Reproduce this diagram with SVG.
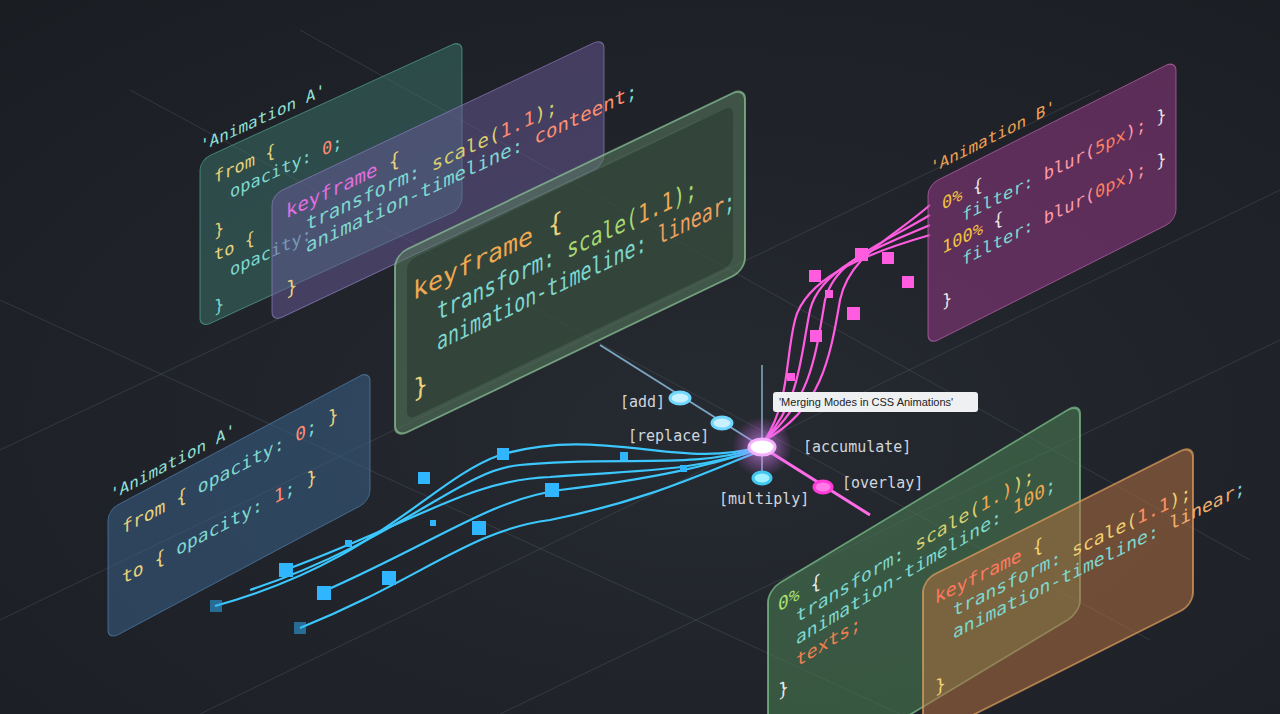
<svg xmlns="http://www.w3.org/2000/svg" width="1280" height="714" viewBox="0 0 1280 714">
<defs>
<radialGradient id="bg" cx="0.55" cy="0.6" r="0.8"><stop offset="0" stop-color="#262a31"/><stop offset="1" stop-color="#1a1d22"/></radialGradient>
<radialGradient id="glow"><stop offset="0" stop-color="#ffffff" stop-opacity="0.9"/><stop offset="0.3" stop-color="#e090ff" stop-opacity="0.5"/><stop offset="1" stop-color="#e060ff" stop-opacity="0"/></radialGradient>
</defs>
<style>
.code{font-family:"DejaVu Sans Mono","Liberation Mono",monospace}
.lbl{font-family:"DejaVu Sans Mono","Liberation Mono",monospace;font-size:15px;fill:#cfd6de}
.grid{stroke:#4a5058;stroke-width:1;opacity:0.5}
.bw{fill:none;stroke:#3cc8ff;stroke-width:2.2}
.pw{fill:none;stroke:#ff5ce0;stroke-width:2.2}
.bs{fill:#2fb6ff}
.ps{fill:#ff5ce0}
</style>
<rect width="1280" height="714" fill="url(#bg)"/>
<g id="grid">
<line class="grid" x1="130" y1="90" x2="1150" y2="640"/>
<line class="grid" x1="300" y1="30" x2="1250" y2="560"/>
<line class="grid" x1="0" y1="620" x2="1100" y2="90"/>
<line class="grid" x1="200" y1="714" x2="1280" y2="190"/>
<line class="grid" x1="0" y1="450" x2="700" y2="120"/>
<line class="grid" x1="500" y1="714" x2="1280" y2="340"/>
<line class="grid" x1="0" y1="300" x2="900" y2="714"/>
</g>
<g id="connectors">
<line x1="600" y1="345" x2="762" y2="447" stroke="#9fd8ff" stroke-width="2" opacity="0.7"/>
<line x1="762" y1="447" x2="870" y2="515" stroke="#ff6ce8" stroke-width="3"/>
<line x1="762" y1="365" x2="762" y2="478" stroke="#b0e8ff" stroke-width="1.5" opacity="0.7"/>
<path class="bw" d="M215 606 C380 560 430 480 500 455 C600 425 680 470 758 447"/>
<path class="bw" d="M250 590 C400 540 460 470 520 465 C620 455 690 470 758 448"/>
<path class="bw" d="M285 570 C420 520 470 480 550 477 C650 470 700 470 758 449"/>
<path class="bw" d="M320 593 C440 540 490 500 560 490 C660 478 710 465 758 450"/>
<path class="bw" d="M300 628 C420 580 470 530 550 520 C650 500 710 470 758 452"/>
<path class="pw" d="M765 440 C790 400 785 360 795 320 C805 280 860 255 930 235"/>
<path class="pw" d="M765 440 C800 400 800 360 810 310 C820 270 870 250 930 225"/>
<path class="pw" d="M765 440 C810 400 815 360 825 300 C835 260 880 245 930 215"/>
<path class="pw" d="M765 440 C820 410 830 360 840 300 C850 255 890 240 930 205"/>
<g class="bs">
<rect x="497" y="448" width="12" height="12"/><rect x="418" y="472" width="12" height="12"/><rect x="545" y="483" width="14" height="14"/>
<rect x="472" y="521" width="14" height="14"/><rect x="382" y="571" width="14" height="14"/><rect x="317" y="586" width="14" height="14"/>
<rect x="279" y="563" width="14" height="14"/><rect x="620" y="452" width="8" height="8"/><rect x="680" y="465" width="7" height="7"/>
<rect x="345" y="540" width="7" height="7"/><rect x="430" y="520" width="6" height="6"/><rect x="210" y="600" width="12" height="12" opacity="0.5"/>
<rect x="294" y="622" width="12" height="12" opacity="0.5"/>
</g>
<g class="ps">
<rect x="809" y="270" width="12" height="12"/><rect x="855" y="248" width="13" height="13"/><rect x="882" y="252" width="12" height="12"/>
<rect x="847" y="307" width="13" height="13"/><rect x="810" y="330" width="12" height="12"/><rect x="902" y="276" width="12" height="12"/>
<rect x="787" y="373" width="8" height="8"/><rect x="825" y="290" width="8" height="8"/>
</g>
<circle cx="762" cy="447" r="30" fill="url(#glow)"/>
<ellipse cx="762" cy="447" rx="13" ry="8" fill="#ffffff" stroke="#f4b0ff" stroke-width="3"/>
<ellipse cx="680" cy="398" rx="10" ry="6" fill="#c8f0ff" stroke="#6fd6ff" stroke-width="3"/>
<ellipse cx="722" cy="423" rx="10" ry="6" fill="#c8f0ff" stroke="#6fd6ff" stroke-width="3"/>
<ellipse cx="762" cy="478" rx="9" ry="6" fill="#a0f0ff" stroke="#40c8f0" stroke-width="3"/>
<ellipse cx="823" cy="487" rx="9" ry="6" fill="#ff7ae8" stroke="#ff3cd8" stroke-width="3"/>
</g>
<g id="labels">
<text class="lbl" x="620" y="407">[add]</text>
<text class="lbl" x="628" y="441">[replace]</text>
<text class="lbl" x="803" y="452">[accumulate]</text>
<text class="lbl" x="842" y="488">[overlay]</text>
<text class="lbl" x="719" y="504">[multiply]</text>
<g id="tooltip"><rect x="773" y="392" width="205" height="20" rx="3" fill="#eef0f2"/><text x="779" y="406" font-family="'Liberation Sans',Arial,sans-serif" font-size="11" fill="#222">'Merging Modes in CSS Animations'</text></g>
</g>
<g id="panel-teal" transform="translate(200,160) skewY(-24.6)" class="code" font-size="17">
<rect x="0" y="0" width="262" height="168" rx="10" fill="#3d7f74" fill-opacity="0.45" stroke="#5fb8a8" stroke-opacity="0.6"/>
<text x="0" y="-8" fill="#8ee0d8" font-size="16">'Animation A'</text>
<text x="14" y="30" fill="#e8d27a">from {</text>
<text x="30" y="52" fill="#7ed8d0">opacity: <tspan fill="#ff8a70">0</tspan>;</text>
<text x="14" y="84" fill="#e8d27a">}</text>
<text x="14" y="108" fill="#e8d27a">to {</text>
<text x="30" y="130" fill="#7ed8d0">opacity:</text>
<text x="14" y="160" fill="#7ed8d0">}</text>
</g>
<g id="panel-purple" transform="translate(272,195) skewY(-25.3)" class="code" font-size="19">
<rect x="0" y="0" width="332" height="127" rx="10" fill="#6a5a9a" fill-opacity="0.5" stroke="#9a88d0" stroke-opacity="0.6"/>
<text x="14" y="30" fill="#e070e0">keyframe <tspan fill="#e8d27a">{</tspan></text>
<text x="34" y="52" fill="#7ed8d0">transform: <tspan fill="#d8d070">scale(</tspan><tspan fill="#ff8a70">1.1</tspan><tspan fill="#d8d070">);</tspan></text>
<text x="34" y="74" fill="#7ed8d0">animation-timeline: <tspan fill="#ff9070">conteent</tspan>;</text>
<text x="14" y="108" fill="#e8d27a">}</text>
</g>
<g id="panel-green" transform="translate(395,255) skewY(-25.6)" class="code" font-size="25">
<rect x="0" y="0" width="350" height="183" rx="12" fill="#5a7e5e" fill-opacity="0.55" stroke="#8ec89a" stroke-opacity="0.7" stroke-width="2"/>
<rect x="12" y="12" width="326" height="159" rx="8" fill="#2c3a34" fill-opacity="0.6"/>
<text x="18" y="54" fill="#f0a850" textLength="150" lengthAdjust="spacingAndGlyphs">keyframe <tspan fill="#e8d27a">{</tspan></text>
<text x="42" y="86" fill="#7ed8d0" textLength="260" lengthAdjust="spacingAndGlyphs">transform: <tspan fill="#a8d870">scale(</tspan><tspan fill="#f0a850">1.1</tspan><tspan fill="#a8d870">);</tspan></text>
<text x="42" y="116" fill="#7ed8d0" textLength="298" lengthAdjust="spacingAndGlyphs">animation-timeline: <tspan fill="#f0a060">linear</tspan>;</text>
<text x="18" y="152" fill="#e8d27a">}</text>
</g>
<g id="panel-blue" transform="translate(108,510) skewY(-28)" class="code" font-size="18">
<rect x="0" y="0" width="262" height="130" rx="10" fill="#3a6088" fill-opacity="0.55" stroke="#5c90c0" stroke-opacity="0.6"/>
<text x="2" y="-8" fill="#8ee0d8" font-size="16">'Animation A'</text>
<text x="14" y="32" fill="#e8d27a">from <tspan>{</tspan> <tspan fill="#7ed8d0">opacity:</tspan> <tspan fill="#ff8a70">0</tspan><tspan fill="#7ed8d0">;</tspan> }</text>
<text x="14" y="82" fill="#e8d27a">to { <tspan fill="#7ed8d0">opacity:</tspan> <tspan fill="#ff8a70">1</tspan><tspan fill="#7ed8d0">;</tspan> }</text>
</g>
<g id="panel-pink" transform="translate(928,185) skewY(-26.7)" class="code" font-size="17">
<rect x="0" y="0" width="248" height="160" rx="10" fill="#9a3a8a" fill-opacity="0.5" stroke="#d870c8" stroke-opacity="0.6"/>
<text x="2" y="-10" fill="#f0a050" font-size="16">'Animation B'</text>
<text x="14" y="32" fill="#f0c040">0% <tspan fill="#e8e8e8">{</tspan></text>
<text x="34" y="54" fill="#7ed8d0">filter: <tspan fill="#ff9aa8">blur(</tspan><tspan fill="#ff8060">5px</tspan><tspan fill="#ff9aa8">);</tspan> <tspan fill="#e8e8e8">}</tspan></text>
<text x="14" y="76" fill="#f0c040">100% <tspan fill="#e8e8e8">{</tspan></text>
<text x="34" y="98" fill="#7ed8d0">filter: <tspan fill="#ff9aa8">blur(</tspan><tspan fill="#ff8060">0px</tspan><tspan fill="#ff9aa8">);</tspan> <tspan fill="#e8e8e8">}</tspan></text>
<text x="14" y="130" fill="#e8e8e8">}</text>
</g>
<g id="panel-green2" transform="translate(768,590) skewY(-31)" class="code" font-size="18">
<rect x="0" y="0" width="312" height="210" rx="12" fill="#4a7a52" fill-opacity="0.6" stroke="#80c890" stroke-opacity="0.7" stroke-width="2"/>
<text x="10" y="28" fill="#a8e070">0% <tspan fill="#e8e8e8">{</tspan></text>
<text x="28" y="50" fill="#7ed8d0">transform: <tspan fill="#d8d070">scale(</tspan><tspan fill="#f0a850">1.)</tspan><tspan fill="#d8d070">);</tspan></text>
<text x="28" y="72" fill="#7ed8d0">animation-timeline: <tspan fill="#f0a850">100</tspan>;</text>
<text x="28" y="94" fill="#f08050">texts;</text>
<text x="10" y="114" fill="#e8e8e8">}</text>
</g>
<g id="panel-orange" transform="translate(923,580) skewY(-26.6)" class="code" font-size="18">
<rect x="0" y="0" width="270" height="160" rx="12" fill="#b07040" fill-opacity="0.55" stroke="#e0a060" stroke-opacity="0.7" stroke-width="2"/>
<text x="12" y="30" fill="#ff7a60">keyframe <tspan fill="#f0d070">{</tspan></text>
<text x="30" y="52" fill="#7ed8d0">transform: <tspan fill="#f0d070">scale(</tspan><tspan fill="#ff9060">1.1</tspan><tspan fill="#f0d070">);</tspan></text>
<text x="30" y="74" fill="#7ed8d0">animation-timeline: <tspan fill="#f0b070">linear</tspan>;</text>
<text x="12" y="120" fill="#f0d070">}</text>
</g>
</svg>
